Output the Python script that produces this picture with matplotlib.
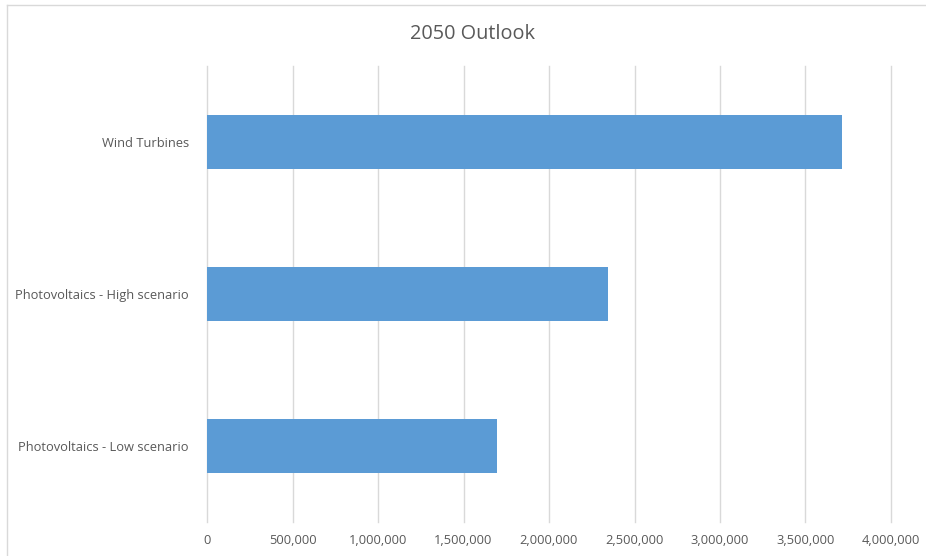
import matplotlib
matplotlib.use("Agg")
import matplotlib.pyplot as plt
from matplotlib.lines import Line2D
from matplotlib.ticker import FuncFormatter, MultipleLocator

# ---- data ----
categories = ["Photovoltaics - Low scenario", "Photovoltaics - High scenario", "Wind Turbines"]
values = [1696000, 2345000, 3713000]
title = "2050 Outlook"

BAR_COLOR = "#5B9BD5"
GRID_COLOR = "#D9D9D9"
TEXT_COLOR = "#595959"

plt.rcParams["font.family"] = ["Open Sans", "DejaVu Sans"]

W, H = 926, 556
fig = plt.figure(figsize=(W / 100, H / 100), dpi=100)
ax = fig.add_axes([207 / W, 1 - 522 / H, (891 - 207) / W, (522 - 66) / H])

ax.barh(range(len(categories)), values, height=0.35, color=BAR_COLOR, zorder=3)

ax.set_xlim(0, 4000000)
ax.set_ylim(-0.5, len(categories) - 0.5)
ax.xaxis.set_major_locator(MultipleLocator(500000))
ax.xaxis.set_major_formatter(FuncFormatter(lambda v, _: f"{int(v):,}"))
ax.set_yticks(range(len(categories)))
ax.set_yticklabels(categories)

ax.grid(axis="x", color=GRID_COLOR, linewidth=1, zorder=0)
for gl in ax.get_xgridlines():
    gl.set_clip_on(False)   # keep the edge lines (0 and 4M) fully drawn
for s in ax.spines.values():
    s.set_visible(False)
ax.tick_params(axis="both", length=0, colors=TEXT_COLOR, labelsize=9.3)
ax.tick_params(axis="x", pad=9)
ax.tick_params(axis="y", pad=13)

fig.text(473 / W, 1 - 34 / H, title, ha="center", va="center", fontsize=14.3, color=TEXT_COLOR)

# chart-area border (only top and left visible in the crop)
fig.add_artist(Line2D([7 / W, 7 / W], [0, 1 - 5 / H], color=GRID_COLOR, linewidth=1))
fig.add_artist(Line2D([7 / W, 1], [1 - 5 / H, 1 - 5 / H], color=GRID_COLOR, linewidth=1))

fig.savefig("out.png", dpi=100)
